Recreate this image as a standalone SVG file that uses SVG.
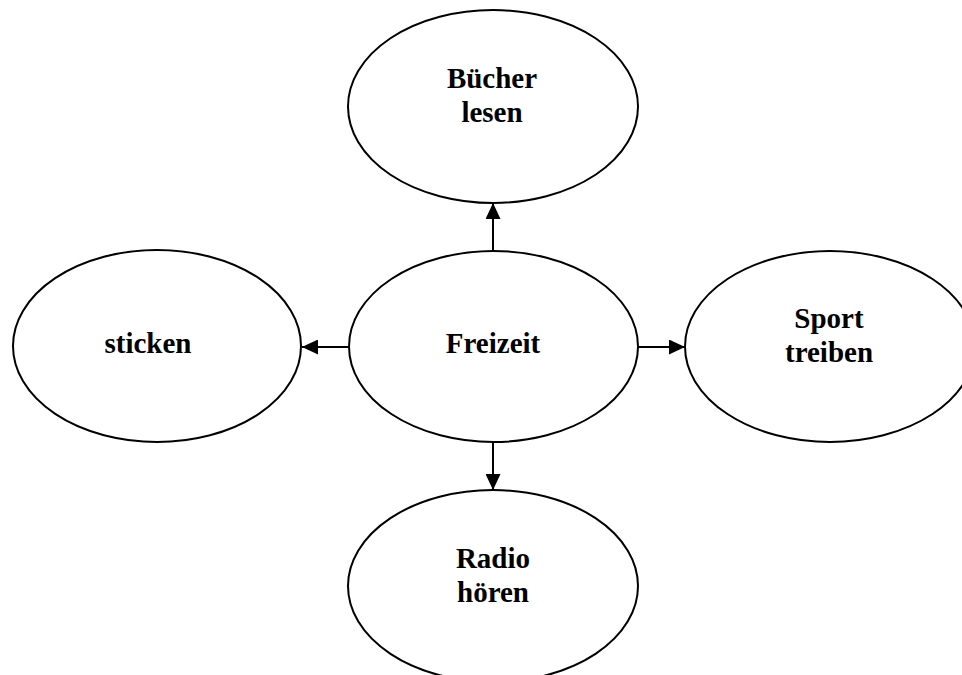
<svg xmlns="http://www.w3.org/2000/svg" width="962" height="675" viewBox="0 0 962 675">
<style>
.n{fill:#fff;stroke:#000;stroke-width:2}
.t{font-family:"Liberation Serif","Times New Roman",serif;font-weight:bold;font-size:29px;fill:#000;text-anchor:middle}
.c{stroke:#000;stroke-width:2;fill:none;marker-end:url(#ah)}
</style>
<defs>
<marker id="ah" markerWidth="16" markerHeight="15" refX="16" refY="7.5" orient="auto" markerUnits="userSpaceOnUse">
<path d="M0,0 L16,7.5 L0,15 Z" fill="#000"/>
</marker>
</defs>
<rect width="962" height="675" fill="#fff"/>
<g id="connectors">
<line class="c" x1="493" y1="251" x2="493" y2="203"/>
<line class="c" x1="349" y1="347" x2="302" y2="347"/>
<line class="c" x1="638" y1="347" x2="685" y2="347"/>
<line class="c" x1="493" y1="442" x2="493" y2="490"/>
</g>
<g id="buecher">
<ellipse class="n" cx="493" cy="106.5" rx="145" ry="96.5"/>
<text class="t" x="492" y="88">Bücher</text>
<text class="t" x="492" y="122">lesen</text>
</g>
<g id="freizeit">
<ellipse class="n" cx="493.5" cy="346.5" rx="144.5" ry="95.5"/>
<text class="t" x="493" y="353">Freizeit</text>
</g>
<g id="sticken">
<ellipse class="n" cx="157" cy="346" rx="144" ry="96"/>
<text class="t" x="148" y="353">sticken</text>
</g>
<g id="sport">
<ellipse class="n" cx="830" cy="346.5" rx="145" ry="95.5"/>
<text class="t" x="829" y="328">Sport</text>
<text class="t" x="829" y="362">treiben</text>
</g>
<g id="radio">
<ellipse class="n" cx="493" cy="586" rx="145" ry="96"/>
<text class="t" x="493" y="568">Radio</text>
<text class="t" x="493" y="602">hören</text>
</g>
</svg>
